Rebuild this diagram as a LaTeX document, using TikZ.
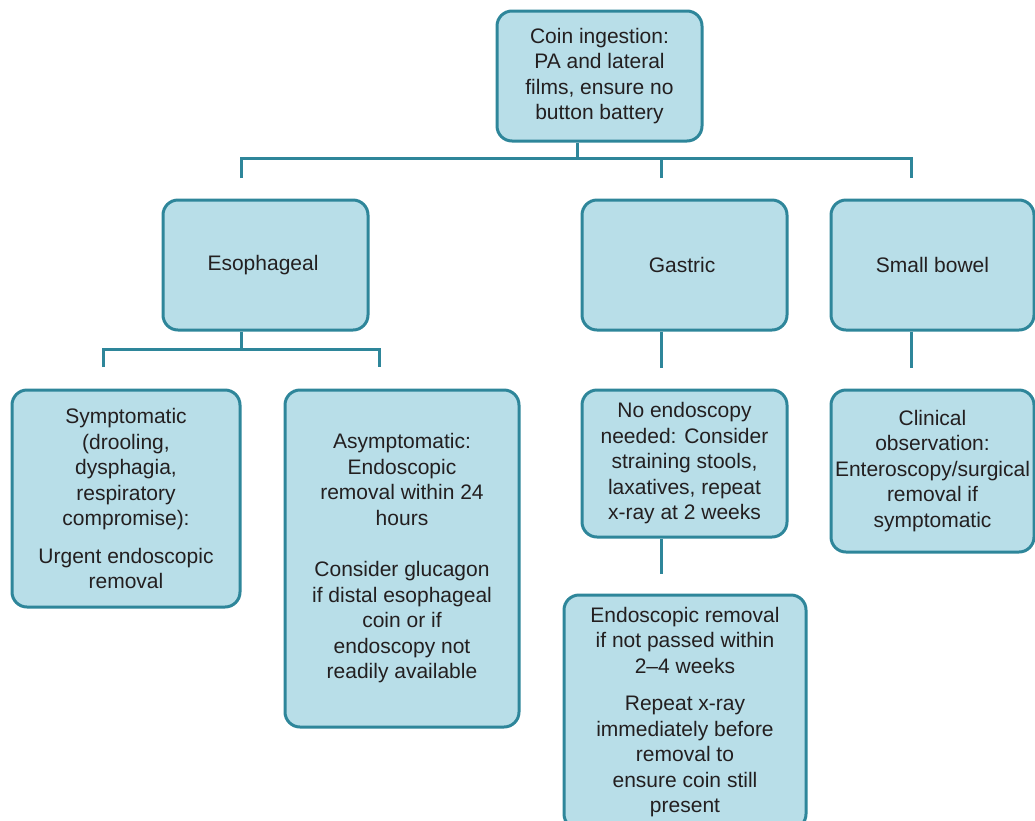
\documentclass[tikz,border=0pt]{standalone}
\usepackage{fontspec}
\setmainfont{Liberation Sans}
\definecolor{boxfill}{RGB}{184,222,232}
\definecolor{boxline}{RGB}{46,134,154}
\definecolor{txt}{RGB}{35,31,32}
\tikzset{
  box/.style={draw=boxline, fill=boxfill, line width=3pt, rounded corners=15pt,
    align=center, inner sep=0pt, text=txt,
    font=\fontsize{21}{25.5}\selectfont},
  link/.style={draw=boxline, line width=3pt}
}
\begin{document}
\begin{tikzpicture}[x=1pt,y=-1pt]
\useasboundingbox (0,0) rectangle (1035,820);
\clip (0,0) rectangle (1035,820);
\fill[white] (0,0) rectangle (1035,820);

\node[box, minimum width=205, minimum height=130] (top) at (599.5,76)
  {Coin ingestion:\\PA and lateral\\films, ensure no\\button battery};
\node[box, minimum width=205, minimum height=130] (eso) at (265.5,265) {Esophageal\kern5pt};
\node[box, minimum width=205, minimum height=130] (gas) at (684.5,265) {Gastric\kern5pt};
\node[box, minimum width=203, minimum height=130] (sb) at (932.5,265) {Small bowel};

\node[box, minimum width=228, minimum height=217] (sym) at (126,498.5)
  {Symptomatic\\(drooling,\\dysphagia,\\respiratory\\compromise):\\[12pt]Urgent endoscopic\\removal};
\node[box, minimum width=234, minimum height=337] (asym) at (402,558.5)
  {Asymptomatic:\\Endoscopic\\removal within 24\\hours\\[26pt]Consider glucagon\\if distal esophageal\\coin or if\\endoscopy not\\readily available};
\node[box, minimum width=205, minimum height=147] (noendo) at (684.5,463.5)
  {No endoscopy\\needed: Consider\\straining stools,\\laxatives, repeat\\x-ray at 2 weeks};
\node[box, minimum width=242, minimum height=234] (endo) at (685,712)
  {Endoscopic removal\\if not passed within\\2--4 weeks\\[12pt]Repeat x-ray\\immediately before\\removal to\\ensure coin still\\present};
\node[box, minimum width=203, minimum height=162] (clin) at (932.5,471)
  {Clinical\\observation:\\Enteroscopy/surgical\\removal if\\symptomatic};

% connector coordinates
\coordinate (j0) at (577,158);
\coordinate (dE) at (241,178);
\coordinate (dG) at (661,178);
\coordinate (dS) at (911,178);
\coordinate (j1) at (241,349);
\coordinate (dSym) at (103,367);
\coordinate (dAsym) at (379,367);
\coordinate (dNo) at (661,368);
\coordinate (dEndo) at (661,574);
\coordinate (dClin) at (911,368);

\draw[link] (j0 |- top.south) -- (j0);
\draw[link] (dE) -- (dE |- j0) -- (dS |- j0) -- (dS);
\draw[link] (dG) -- (dG |- j0);

\draw[link] (j1 |- eso.south) -- (j1);
\draw[link] (dSym) -- (dSym |- j1) -- (dAsym |- j1) -- (dAsym);

\draw[link] (dNo |- gas.south) -- (dNo);
\draw[link] (dEndo |- noendo.south) -- (dEndo);
\draw[link] (dClin |- sb.south) -- (dClin);
\end{tikzpicture}
\end{document}
